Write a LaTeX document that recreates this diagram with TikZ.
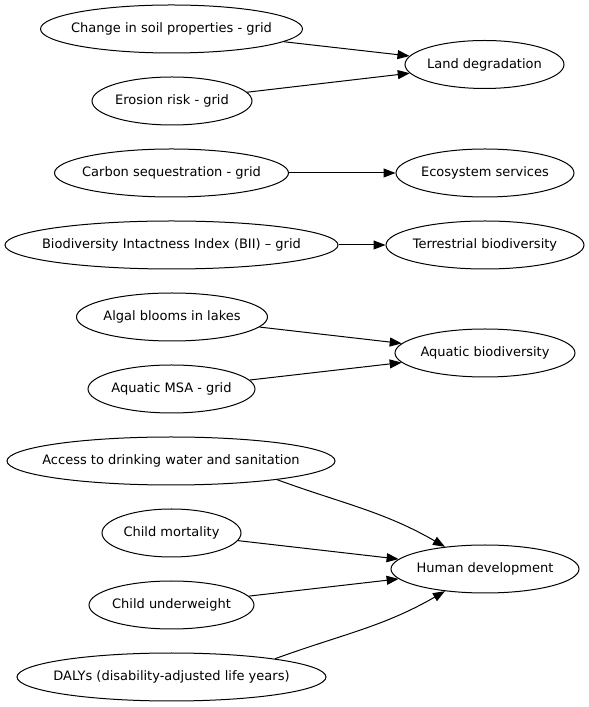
\documentclass[tikz,border=0pt]{standalone}
\usepackage{fontspec}
\setmainfont{DejaVu Sans}
\usetikzlibrary{shapes.geometric,arrows.meta}
\newcommand\lbl[1]{\makebox[0pt]{#1}}
\tikzset{
  oval/.style={ellipse, draw, line width=1pt, inner sep=0pt, minimum height=48pt, font=\fontsize{13}{15}\selectfont},
  edge/.style={line width=1pt, -{Triangle[length=12pt,width=9pt]}}
}
\begin{document}
\begin{tikzpicture}[x=1pt,y=1pt]
	%%%%% START %%%%%
	\useasboundingbox (0,0) rectangle (589,707);
	
	\node[oval, minimum width=262pt] (soil) at (171.5,678) {\lbl{Change in soil properties - grid}};
	\node[oval, minimum width=160pt] (erosion) at (172,606) {\lbl{Erosion risk - grid}};
	\node[oval, minimum width=159pt] (land) at (484.5,642.5) {\lbl{Land degradation}};
	
	\node[oval, minimum width=234pt] (carbon) at (171.5,534) {\lbl{Carbon sequestration - grid}};
	\node[oval, minimum width=178pt] (ecosys) at (485,534) {\lbl{Ecosystem services}};
	
	\node[oval, minimum width=333pt] (bii) at (171.5,462) {\lbl{Biodiversity Intactness Index (BII) – grid}};
	\node[oval, minimum width=198pt] (terr) at (485,462) {\lbl{Terrestrial biodiversity}};
	
	\node[oval, minimum width=191pt] (algal) at (172,390) {\lbl{Algal blooms in lakes}};
	\node[oval, minimum width=167pt] (msa) at (171.5,318) {\lbl{Aquatic MSA - grid}};
	\node[oval, minimum width=180pt] (aqua) at (485,354) {\lbl{Aquatic biodiversity}};
	
	\node[oval, minimum width=328pt] (access) at (171,246) {\lbl{Access to drinking water and sanitation}};
	\node[oval, minimum width=139pt] (mortality) at (171.5,174) {\lbl{Child mortality}};
	\node[oval, minimum width=165pt] (underweight) at (171.5,102) {\lbl{Child underweight}};
	\node[oval, minimum width=309pt] (dalys) at (171.5,30) {\lbl{DALYs (disability-adjusted life years)}};
	\node[oval, minimum width=188pt] (human) at (485,138) {\lbl{Human development}};
	
	\draw[edge] (soil) -- (land);
	\draw[edge] (erosion) -- (land);
	\draw[edge] (carbon) -- (ecosys);
	\draw[edge] (bii) -- (terr);
	\draw[edge] (algal) -- (aqua);
	\draw[edge] (msa) -- (aqua);
	\draw[edge] (access.-10) to[out=-20, in=150] (human.151);
	\draw[edge] (mortality) -- (human);
	\draw[edge] (underweight) -- (human);
	\draw[edge] (dalys.10) to[out=20, in=-150] (human.-151);
	
	%%%%% END %%%%%
\end{tikzpicture}
\end{document}
